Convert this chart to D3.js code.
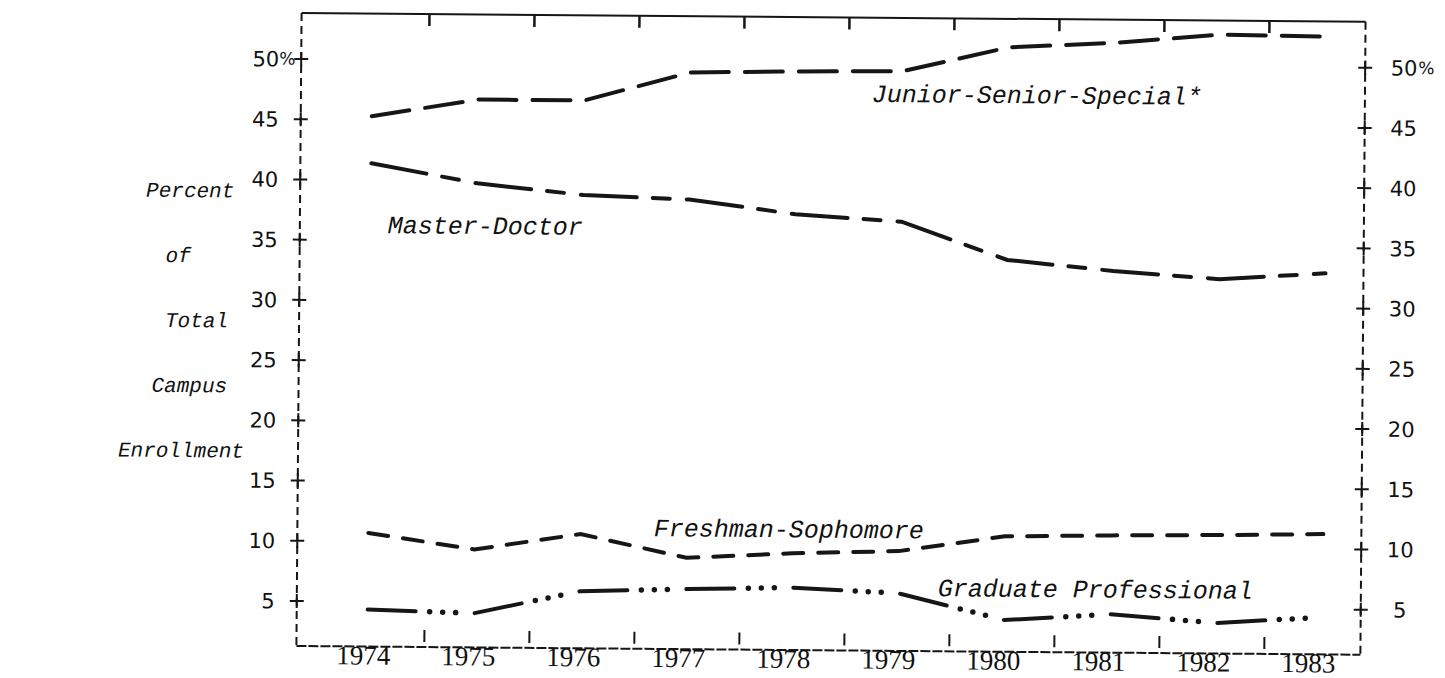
<!DOCTYPE html>
<html>
<head>
<meta charset="utf-8">
<script src="https://cdn.jsdelivr.net/npm/d3@7"></script>
<style>
  body { margin: 0; background: #fff; }
  svg { display: block; }
  .num { font-family: "DejaVu Sans", sans-serif; font-size: 21px; fill: #111; }
  .year { font-family: "Liberation Serif", serif; font-size: 27px; fill: #111; }
  .type { font-family: "Liberation Mono", monospace; font-style: italic; fill: #111; }
</style>
</head>
<body>
<script>
// values (percent of total campus enrollment)
const years = [1974, 1975, 1976, 1977, 1978, 1979, 1980, 1981, 1982, 1983];
const juniorSeniorSpecial = [45.3, 46.75, 46.75, 49.15, 49.3, 49.4, 51.45, 51.9, 52.65, 52.55];
const masterDoctor = [41.4, 39.8, 38.9, 38.6, 37.45, 36.9, 33.8, 32.95, 32.35, 32.9];
const freshmanSophomore = [10.7, 9.4, 10.75, 8.85, 9.3, 9.55, 10.85, 11.0, 11.1, 11.25];
const graduateProfessional = [4.35, 4.1, 6.0, 6.25, 6.45, 6.05, 3.9, 4.45, 3.8, 4.35];
const percentTicks = [5, 10, 15, 20, 25, 30, 35, 40, 45, 50];
const axisTitle = ["Percent", "of", "Total", "Campus", "Enrollment"];

const W = 1445, H = 678;
const frameL = 299, frameR = 1363, frameT = 13, frameB = 646;

const svg = d3.select("body").append("svg").attr("width", W).attr("height", H);
// the scan is slightly tilted, so the whole figure is turned a little
const g = svg.append("g").attr("transform", "rotate(0.47,300,330)");

const y = d3.scaleLinear().domain([5, 50]).range([601, 59]);
const x = d3.scaleLinear().domain([1974, 1983]).range([370, 1325]);
const xLab = d3.scaleLinear().domain([1974, 1983]).range([366, 1311]);

const ink = "#161616";

// frame
g.append("line").attr("x1", frameL).attr("x2", frameR).attr("y1", frameT).attr("y2", frameT)
  .attr("stroke", ink).attr("stroke-width", 2);
g.append("line").attr("x1", frameL).attr("x2", frameR).attr("y1", frameB).attr("y2", frameB)
  .attr("stroke", ink).attr("stroke-width", 2).attr("stroke-dasharray", "10 2");
[frameL, frameR].forEach(xx => {
  g.append("line").attr("x1", xx).attr("x2", xx).attr("y1", frameT).attr("y2", frameB)
    .attr("stroke", ink).attr("stroke-width", 2).attr("stroke-dasharray", "8 5");
});

// y ticks ("+" marks) on both sides
[frameL, frameR].forEach(xx => {
  const t = g.append("g").selectAll("g").data(percentTicks).join("g");
  t.append("line").attr("x1", xx - 7).attr("x2", xx + 7)
    .attr("y1", d => y(d)).attr("y2", d => y(d))
    .attr("stroke", ink).attr("stroke-width", 2);
  t.append("line").attr("x1", xx).attr("x2", xx)
    .attr("y1", d => y(d) - 7).attr("y2", d => y(d) + 7)
    .attr("stroke", ink).attr("stroke-width", 2);
});

// y tick labels
g.append("g").selectAll("text").data(percentTicks).join("text")
  .attr("class", "num").attr("x", 277).attr("y", d => y(d)).attr("dy", "0.36em")
  .attr("text-anchor", "end").text(d => d);
g.append("g").selectAll("text").data(percentTicks).join("text")
  .attr("class", "num").attr("x", 1402).attr("y", d => y(d)).attr("dy", "0.36em")
  .attr("text-anchor", "middle").text(d => d);
g.append("text").attr("class", "num").attr("x", 277).attr("y", y(50)).attr("dy", "0.34em")
  .style("font-size", "17px").text("%");
g.append("text").attr("class", "num").attr("x", 1416).attr("y", y(50)).attr("dy", "0.34em")
  .style("font-size", "17px").text("%");

// x ticks between the year labels, top and bottom
const between = years.slice(0, -1);
g.append("g").selectAll("line").data(between).join("line")
  .attr("x1", d => xLab(d + 0.58)).attr("x2", d => xLab(d + 0.58))
  .attr("y1", 629).attr("y2", 641).attr("stroke", ink).attr("stroke-width", 2);
g.append("g").selectAll("line").data(between).join("line")
  .attr("x1", d => xLab(d + 0.58)).attr("x2", d => xLab(d + 0.58))
  .attr("y1", frameT).attr("y2", frameT + 12).attr("stroke", ink).attr("stroke-width", 2.5);

// year labels
g.append("g").selectAll("text").data(years).join("text")
  .attr("class", "year").attr("x", d => xLab(d)).attr("y", 664)
  .attr("text-anchor", "middle").text(d => d);

// series
const series = [
  { name: "Junior-Senior-Special*", values: juniorSeniorSpecial, dash: "38 16" },
  { name: "Master-Doctor", values: masterDoctor, dash: "56 16 17 17" },
  { name: "Freshman-Sophomore", values: freshmanSophomore, dash: "20 15" },
  { name: "Graduate Professional", values: graduateProfessional, dash: "48 59" }
];
const line = d3.line().x((d, i) => x(years[i])).y(d => y(d));
g.append("g").selectAll("path").data(series).join("path")
  .attr("d", d => line(d.values))
  .attr("fill", "none").attr("stroke", ink).attr("stroke-width", 4)
  .attr("stroke-linecap", "round")
  .attr("stroke-dasharray", d => d.dash);
// the three typed dots between the graduate dashes
g.append("path").attr("d", line(graduateProfessional))
  .attr("fill", "none").attr("stroke", ink).attr("stroke-width", 5.5)
  .attr("stroke-linecap", "round")
  .attr("stroke-dasharray", "0 13 0 13 0 81").attr("stroke-dashoffset", 45);

// series labels
const lab = (txt, yr, v) => g.append("text").attr("class", "type")
  .attr("x", x(yr)).attr("y", y(v)).style("font-size", "25px").text(txt);
lab("Junior-Senior-Special*", 1978.71, 46.82);
lab("Master-Doctor", 1974.16, 35.6);
lab("Freshman-Sophomore", 1976.69, 10.62);
lab("Graduate Professional", 1979.37, 5.83);

// y axis title, typed one word per line
const titleX = [145, 165, 165, 152, 119];
g.append("g").selectAll("text").data(axisTitle).join("text")
  .attr("class", "type").style("font-size", "21px")
  .attr("x", (d, i) => titleX[i]).attr("y", (d, i) => 198 + i * 65)
  .text(d => d);
</script>
</body>
</html>
